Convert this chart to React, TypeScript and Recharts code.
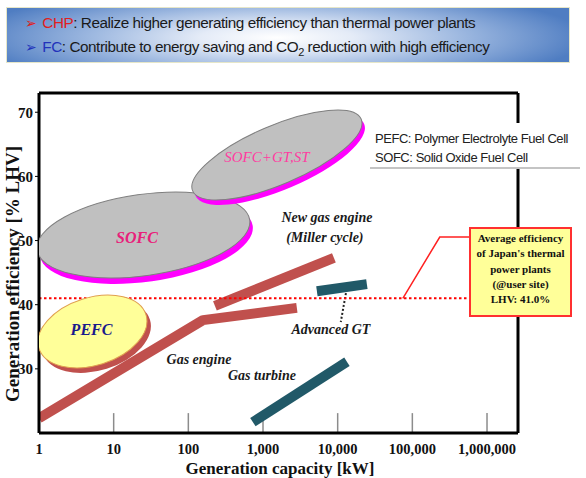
import React from 'react';
import { ComposedChart, XAxis, YAxis, Line, Scatter, ReferenceLine } from 'recharts';

// ---- axes ----
const X_TICKS = [1, 10, 100, 1000, 10000, 100000, 1000000];
const Y_TICKS = [30, 40, 50, 60, 70];
const X_DOMAIN = [1, 2600000];
const Y_DOMAIN = [20, 73];

// ---- series (kW, efficiency % LHV) ----
const gasEngine = [
  { kw: 1, eff: 22.3 },
  { kw: 157, eff: 37.6 },
  { kw: 2840, eff: 39.5 },
];
const newGasEngine = [
  { kw: 227, eff: 39.8 },
  { kw: 8900, eff: 47.3 },
];
const advancedGT = [
  { kw: 5270, eff: 42.1 },
  { kw: 24600, eff: 43.2 },
];
const gasTurbine = [
  { kw: 732, eff: 21.7 },
  { kw: 13300, eff: 31.1 },
];
const advancedGTPointer = [
  { kw: 12900, eff: 41.8 },
  { kw: 11000, eff: 37.3 },
];
const THERMAL_AVG = 41.0;
const THERMAL_END_KW = 589000;
const thermalLeader = [
  { kw: 74600, eff: 41.0 },
  { kw: 233000, eff: 50.55 },
  { kw: 589000, eff: 50.55 },
];

// fuel-cell regions (centres)
const fcRegions = [
  { name: 'SOFC', kw: 25, eff: 50.87 },
  { name: 'SOFC+GT,ST', kw: 1535, eff: 63.34 },
  { name: 'PEFC', kw: 5.2, eff: 35.82 },
];

// text labels anchored in data space
const seriesLabels = [
  { text: 'SOFC', kw: 20.5, eff: 50.4 },
  { text: 'SOFC+GT,ST', kw: 1128, eff: 63.0 },
  { text: 'PEFC', kw: 5.05, eff: 36.06 },
  { text: 'New gas engine', kw: 7170, eff: 53.67 },
  { text: '(Miller cycle)', kw: 6740, eff: 50.55 },
  { text: 'Advanced GT', kw: 8110, eff: 36.2 },
  { text: 'Gas engine', kw: 139, eff: 31.4 },
  { text: 'Gas turbine', kw: 967, eff: 29.0 },
];

const legendLines = ['PEFC: Polymer Electrolyte Fuel Cell', 'SOFC: Solid Oxide Fuel Cell'];
const noteLines = ['Average efficiency', "of Japan's thermal", 'power plants', '(@user site)', 'LHV: 41.0%'];

// ---- styles ----
const SERIF = "'Liberation Serif', 'Times New Roman', serif";
const SANS = "'Liberation Sans', Arial, sans-serif";
const RED_BAR = '#c0504d';
const TEAL_BAR = '#215968';

const regionStyle: Record<string, any> = {
  SOFC: { rx: 107.4, ry: 40.6, angle: -8.1, fill: '#c0c0c0', stroke: '#7f7f7f', shadow: '#ff00ff', dx: 3, dy: 6 },
  'SOFC+GT,ST': { rx: 91.6, ry: 29.4, angle: -23.1, fill: '#c0c0c0', stroke: '#7f7f7f', shadow: '#ff00ff', dx: 3, dy: 5 },
  PEFC: { rx: 56.1, ry: 33.9, angle: -17.5, fill: '#ffff99', stroke: '#e0a050', shadow: '#c0504d', dx: 4, dy: 5 },
};

const labelStyle: Record<string, any> = {
  SOFC: { fill: '#e8207a', size: 16, weight: 'bold' },
  'SOFC+GT,ST': { fill: '#ff3ca0', size: 15, weight: 'normal' },
  PEFC: { fill: '#1a1a8c', size: 16, weight: 'bold' },
  'New gas engine': { fill: '#1a1a1a', size: 14, weight: 'bold' },
  '(Miller cycle)': { fill: '#1a1a1a', size: 14, weight: 'bold' },
  'Advanced GT': { fill: '#1a1a1a', size: 14, weight: 'bold' },
  'Gas engine': { fill: '#1a1a1a', size: 14, weight: 'bold' },
  'Gas turbine': { fill: '#1a1a1a', size: 14, weight: 'bold' },
};

const RegionShape = (props: any) => {
  const { cx, cy, payload } = props;
  const s = regionStyle[payload.name];
  return (
    <g>
      <ellipse cx={cx + s.dx} cy={cy + s.dy} rx={s.rx} ry={s.ry} transform={`rotate(${s.angle} ${cx + s.dx} ${cy + s.dy})`} fill={s.shadow} />
      <ellipse cx={cx} cy={cy} rx={s.rx} ry={s.ry} transform={`rotate(${s.angle} ${cx} ${cy})`} fill={s.fill} stroke={s.stroke} strokeWidth={1} />
    </g>
  );
};

const LabelShape = (props: any) => {
  const { cx, cy, payload } = props;
  const s = labelStyle[payload.text];
  return (
    <text x={cx} y={cy} textAnchor="middle" dominantBaseline="central" fill={s.fill} fontSize={s.size}
      fontStyle="italic" fontWeight={s.weight} fontFamily={SERIF}>
      {payload.text}
    </text>
  );
};

const fmt = (v: number) => v.toLocaleString('en-US');

export default function App() {
  return (
    <div style={{ position: 'absolute', left: 0, top: 0, width: 586, height: 478, background: '#fff', overflow: 'hidden' }}>
      {/* banner */}
      <div style={{
        position: 'absolute', left: 6, top: 7, width: 564, height: 56, boxSizing: 'border-box',
        border: '1px solid #e6e6c8',
        background: 'radial-gradient(ellipse 55% 95% at 48% 55%, #ffffff 0%, #e4ebf7 25%, #9db8e0 60%, #4f7dc2 100%)',
        fontFamily: SANS, fontSize: 15.3, color: '#1a1a1a', letterSpacing: -0.45,
      }}>
        <div style={{ position: 'absolute', left: 18, top: 5, whiteSpace: 'nowrap', lineHeight: '20px' }}>
          <span style={{ color: '#e02020', fontFamily: "'DejaVu Sans', sans-serif", fontSize: 14, marginRight: 6 }}>➢</span>
          <span style={{ color: '#e02020' }}>CHP</span>: Realize higher generating efficiency than thermal power plants
        </div>
        <div style={{ position: 'absolute', left: 18, top: 29, whiteSpace: 'nowrap', lineHeight: '20px' }}>
          <span style={{ color: '#2233bb', fontFamily: "'DejaVu Sans', sans-serif", fontSize: 14, marginRight: 6 }}>➢</span>
          <span style={{ color: '#2233bb' }}>FC</span>: Contribute to energy saving and CO<sub style={{ fontSize: 11, lineHeight: 0 }}>2</sub> reduction with high efficiency
        </div>
      </div>

      <div style={{ position: 'absolute', left: 0, top: 0 }}>
        <ComposedChart width={586} height={478} margin={{ top: 93, right: 68, bottom: 0, left: 0 }}>
          <XAxis
            dataKey="kw" type="number" scale="log" domain={X_DOMAIN} ticks={X_TICKS} interval={0}
            allowDataOverflow height={45} tickFormatter={fmt} tickLine={false} tickSize={0} tickMargin={11}
            axisLine={{ stroke: '#000', strokeWidth: 3 }}
            tick={{ fill: '#111', fontSize: 14.5, fontWeight: 'bold', fontFamily: SERIF }}
            label={{
              content: () => (
                <text x={280} y={468} textAnchor="middle" dominantBaseline="central" fontFamily={SERIF}
                  fontWeight="bold" fontSize={17} fill="#111">Generation capacity [kW]</text>
              ),
            }}
          />
          <YAxis
            dataKey="eff" type="number" domain={Y_DOMAIN} ticks={Y_TICKS} allowDataOverflow width={39}
            tickSize={4} tickMargin={2} tickLine={{ stroke: '#000' }}
            axisLine={{ stroke: '#000', strokeWidth: 3 }}
            tick={{ fill: '#111', fontSize: 15, fontWeight: 'bold', fontFamily: SERIF }}
            label={{
              content: () => (
                <text x={12} y={274} transform="rotate(-90 12 274)" textAnchor="middle" dominantBaseline="central"
                  fontFamily={SERIF} fontWeight="bold" fontSize={19} fill="#111">Generation efficiency [% LHV]</text>
              ),
            }}
          />

          {/* frame */}
          <ReferenceLine y={Y_DOMAIN[1]} stroke="#000" strokeWidth={3} />
          <ReferenceLine x={X_DOMAIN[1]} stroke="#000" strokeWidth={3} />
          {X_TICKS.slice(1).map((t) => (
            <ReferenceLine key={t} segment={[{ x: t, y: Y_DOMAIN[0] }, { x: t, y: Y_DOMAIN[0] + 3.1 }]} stroke="#8c8c8c" strokeWidth={1.5} />
          ))}

          <Scatter data={fcRegions} shape={RegionShape} isAnimationActive={false} />

          <Line data={gasEngine} dataKey="eff" stroke={RED_BAR} strokeWidth={10} dot={false} strokeLinecap="butt" strokeLinejoin="round" isAnimationActive={false} />
          <Line data={newGasEngine} dataKey="eff" stroke={RED_BAR} strokeWidth={10} dot={false} strokeLinecap="butt" isAnimationActive={false} />
          <Line data={gasTurbine} dataKey="eff" stroke={TEAL_BAR} strokeWidth={10} dot={false} strokeLinecap="butt" isAnimationActive={false} />
          <Line data={advancedGT} dataKey="eff" stroke={TEAL_BAR} strokeWidth={10} dot={false} strokeLinecap="butt" isAnimationActive={false} />
          <Line data={advancedGTPointer} dataKey="eff" stroke="#222" strokeWidth={2} strokeDasharray="2 2" dot={false} isAnimationActive={false} />
          <Line data={thermalLeader} dataKey="eff" stroke="#ff2020" strokeWidth={1.5} dot={false} isAnimationActive={false} />

          <Scatter data={seriesLabels} shape={LabelShape} isAnimationActive={false} />

          <ReferenceLine segment={[{ x: X_DOMAIN[0], y: THERMAL_AVG }, { x: THERMAL_END_KW, y: THERMAL_AVG }]} stroke="#ff0000" strokeWidth={2} strokeDasharray="2.5 2.5" />
        </ComposedChart>
      </div>

      {/* legend box */}
      <div style={{
        position: 'absolute', left: 370, top: 123, width: 210, height: 46, boxSizing: 'border-box', background: '#fff',
        borderBottom: '2px solid #c4c4c4', fontFamily: SANS, fontSize: 13, letterSpacing: -0.45, color: '#222',
        paddingLeft: 5, paddingTop: 6, lineHeight: '19px', whiteSpace: 'nowrap',
      }}>
        {legendLines.map((l) => <div key={l}>{l}</div>)}
      </div>

      {/* note box */}
      <div style={{
        position: 'absolute', left: 469, top: 227, width: 103, height: 90, boxSizing: 'border-box', background: '#ffff99',
        border: '2px solid #ff3030', fontFamily: SERIF, fontWeight: 'bold', fontSize: 11, color: '#111',
        textAlign: 'center', lineHeight: '15.3px', paddingTop: 2, whiteSpace: 'nowrap',
      }}>
        {noteLines.map((l) => <div key={l}>{l}</div>)}
      </div>
    </div>
  );
}
